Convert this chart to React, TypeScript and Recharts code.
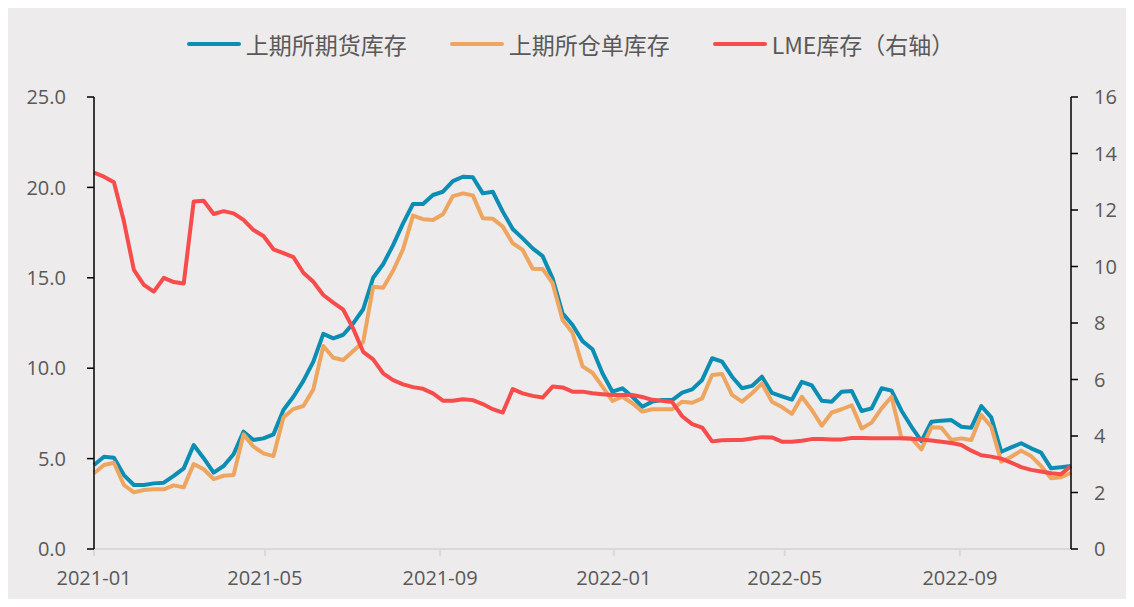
import { LineChart, Line, XAxis, YAxis, Legend } from 'recharts';

// weekly observations, first week = 2021-01-01
const shfeFutures = [
  4.65, 5.1, 5.05, 4.09, 3.54, 3.54, 3.63, 3.67, 4.04, 4.46,
  5.75, 5.02, 4.22, 4.59, 5.24, 6.49, 6.03, 6.12, 6.34, 7.69,
  8.42, 9.3, 10.36, 11.9, 11.65, 11.85, 12.48, 13.26, 15.0, 15.75,
  16.81, 18.01, 19.08, 19.08, 19.58, 19.76, 20.35, 20.59, 20.56, 19.67,
  19.76, 18.66, 17.7, 17.18, 16.63, 16.2, 14.97, 13.04, 12.39, 11.5,
  11.05, 9.72, 8.7, 8.89, 8.42, 7.87, 8.15, 8.24, 8.24, 8.65,
  8.83, 9.35, 10.55, 10.36, 9.53, 8.89, 9.02, 9.53, 8.63, 8.44,
  8.26, 9.25, 9.05, 8.2, 8.15, 8.7, 8.74, 7.63, 7.78, 8.89,
  8.76, 7.65, 6.76, 5.97, 7.04, 7.1, 7.13, 6.76, 6.71, 7.91,
  7.28, 5.38, 5.62, 5.85, 5.57, 5.33, 4.46, 4.52, 4.59,
];

const shfeWarrant = [
  4.19, 4.65, 4.77, 3.54, 3.13, 3.26, 3.3, 3.3, 3.52, 3.41,
  4.7, 4.41, 3.87, 4.05, 4.09, 6.34, 5.66, 5.29, 5.14, 7.28,
  7.74, 7.91, 8.83, 11.23, 10.58, 10.45, 10.95, 11.45, 14.51, 14.45,
  15.39, 16.58, 18.44, 18.24, 18.2, 18.51, 19.52, 19.67, 19.56, 18.29,
  18.27, 17.83, 16.91, 16.54, 15.5, 15.49, 14.7, 12.67, 11.96, 10.1,
  9.75, 8.98, 8.19, 8.42, 8.06, 7.6, 7.73, 7.73, 7.73, 8.15,
  8.09, 8.33, 9.62, 9.68, 8.52, 8.15, 8.61, 9.16, 8.15, 7.85,
  7.47, 8.42, 7.69, 6.82, 7.55, 7.73, 7.95, 6.67, 6.99, 7.78,
  8.42, 6.12, 6.12, 5.51, 6.73, 6.71, 6.03, 6.12, 6.03, 7.41,
  6.76, 4.83, 5.1, 5.44, 5.14, 4.59, 3.91, 3.97, 4.22,
];

const lmeStock = [
  13.32, 13.18, 12.98, 11.6, 9.88, 9.35, 9.11, 9.6, 9.45, 9.4,
  12.3, 12.33, 11.86, 11.96, 11.88, 11.65, 11.29, 11.08, 10.61, 10.47,
  10.33, 9.78, 9.46, 8.99, 8.72, 8.47, 7.8, 6.98, 6.71, 6.22,
  5.98, 5.83, 5.73, 5.67, 5.51, 5.25, 5.25, 5.3, 5.27, 5.13,
  4.95, 4.83, 5.66, 5.51, 5.42, 5.36, 5.75, 5.72, 5.57, 5.57,
  5.51, 5.48, 5.45, 5.45, 5.45, 5.38, 5.28, 5.25, 5.2, 4.7,
  4.42, 4.3, 3.81, 3.85, 3.86, 3.86, 3.91, 3.96, 3.95, 3.8,
  3.8, 3.83, 3.89, 3.89, 3.88, 3.88, 3.93, 3.93, 3.92, 3.92,
  3.92, 3.92, 3.9, 3.88, 3.84, 3.8, 3.75, 3.68, 3.48, 3.32,
  3.27, 3.2, 3.06, 2.9, 2.8, 2.74, 2.68, 2.65, 2.94,
];

const seriesNames = ['上期所期货库存', '上期所仓单库存', 'LME库存（右轴）'];
const monthLabels = ['2021-01', '2021-05', '2021-09', '2022-01', '2022-05', '2022-09'];
const leftTicks = [0, 5, 10, 15, 20, 25];
const rightTicks = [0, 2, 4, 6, 8, 10, 12, 14, 16];

const WEEK_MS = 7 * 86400000;
const START = Date.UTC(2021, 0, 1);
const labelToWeek = (s: string) => {
  const [y, m] = s.split('-').map(Number);
  return (Date.UTC(y, m - 1, 1) - START) / WEEK_MS;
};
const monthTicks = monthLabels.map(labelToWeek);

const data = shfeFutures.map((v, i) => ({
  week: i,
  futures: v,
  warrant: shfeWarrant[i],
  lme: lmeStock[i],
}));

const textColor = '#595959';
const numFont = '"Open Sans", sans-serif';

const renderLegend = (props: any) => {
  const items = seriesNames
    .map((n) => props.payload.find((p: any) => p.value === n))
    .filter(Boolean);
  return (
    <div
      style={{
        display: 'flex',
        justifyContent: 'center',
        alignItems: 'center',
        gap: 43,
        fontFamily: '"Noto Sans CJK SC", sans-serif',
        fontSize: 23,
        lineHeight: '30px',
        color: textColor,
      }}
    >
      {items.map((item: any) => (
        <div key={item.value} style={{ display: 'flex', alignItems: 'center' }}>
          <span
            style={{
              display: 'inline-block',
              width: 54,
              height: 4,
              borderRadius: 2,
              background: item.color,
              marginRight: 5,
            }}
          />
          <span>{item.value}</span>
        </div>
      ))}
    </div>
  );
};

export default function App() {
  return (
    <div style={{ position: 'relative', margin: -8, width: 1134, height: 607, background: '#F6F6F6' }}>
      <div style={{ position: 'absolute', left: 7, top: 7, width: 1127, height: 600, background: '#EDEBEB' }}>
        <LineChart width={1127} height={600} data={data} margin={{ top: 90, right: 0, bottom: 0, left: 0 }}>
          <XAxis
            dataKey="week"
            type="number"
            domain={[0, shfeFutures.length - 1]}
            ticks={monthTicks}
            interval={0}
            tickFormatter={(v: number) => monthLabels[monthTicks.indexOf(v)] ?? ''}
            height={58}
            axisLine={{ stroke: '#D9D9D9', strokeWidth: 2 }}
            tickLine={{ stroke: '#D9D9D9', strokeWidth: 2 }}
            tickSize={7}
            tickMargin={15}
            tick={{ fill: textColor, fontSize: 20, fontFamily: numFont }}
          />
          <YAxis
            yAxisId="left"
            domain={[0, 25]}
            ticks={leftTicks}
            interval={0}
            width={87}
            tickFormatter={(v: number) => v.toFixed(1)}
            axisLine={{ stroke: '#000', strokeWidth: 1.5 }}
            tickLine={{ stroke: '#000', strokeWidth: 1.5 }}
            tickSize={7}
            tickMargin={21}
            tick={{ fill: textColor, fontSize: 20, fontFamily: numFont }}
          />
          <YAxis
            yAxisId="right"
            orientation="right"
            domain={[0, 16]}
            ticks={rightTicks}
            interval={0}
            width={63}
            axisLine={{ stroke: '#000', strokeWidth: 1.5 }}
            tickLine={{ stroke: '#000', strokeWidth: 1.5 }}
            tickSize={7}
            tickMargin={16}
            tick={{ fill: textColor, fontSize: 20, fontFamily: numFont }}
          />
          <Legend
            layout="horizontal"
            verticalAlign="middle"
            align="center"
            content={renderLegend}
            wrapperStyle={{ top: 22, left: 0, width: 1127 }}
          />
          <Line
            yAxisId="left"
            dataKey="futures"
            name={seriesNames[0]}
            stroke="#0B8DB4"
            strokeWidth={4}
            strokeLinejoin="round"
            dot={false}
            isAnimationActive={false}
          />
          <Line
            yAxisId="left"
            dataKey="warrant"
            name={seriesNames[1]}
            stroke="#EDA55F"
            strokeWidth={4}
            strokeLinejoin="round"
            dot={false}
            isAnimationActive={false}
          />
          <Line
            yAxisId="right"
            dataKey="lme"
            name={seriesNames[2]}
            stroke="#F84B4B"
            strokeWidth={4}
            strokeLinejoin="round"
            dot={false}
            isAnimationActive={false}
          />
        </LineChart>
      </div>
    </div>
  );
}
